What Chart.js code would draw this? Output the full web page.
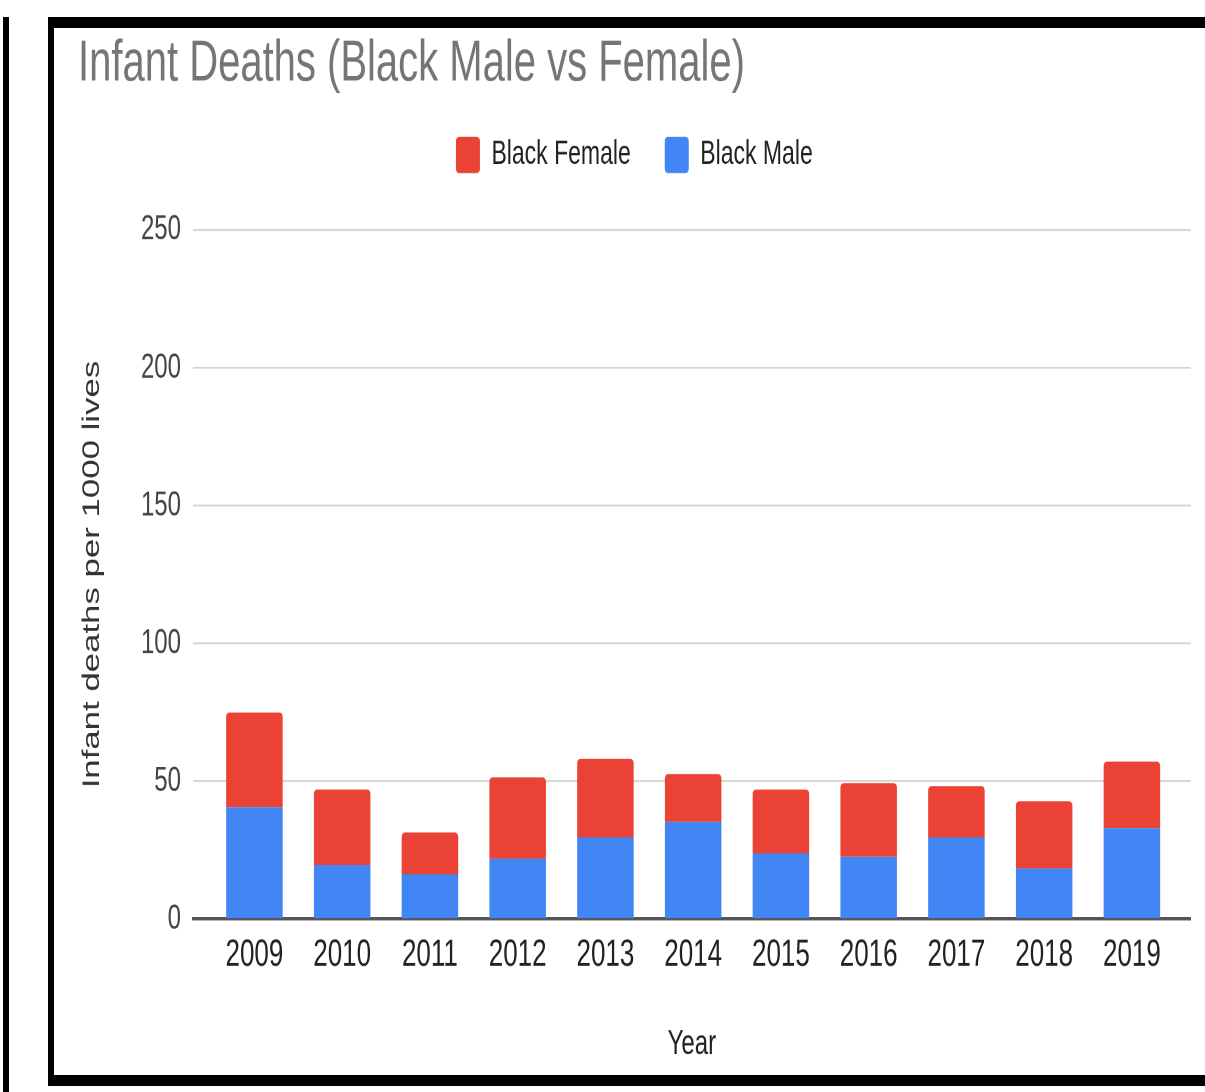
<!DOCTYPE html>
<html>
<head>
<meta charset="utf-8">
<title>Infant Deaths (Black Male vs Female)</title>
<script src="https://cdn.jsdelivr.net/npm/chart.js@4.4.1/dist/chart.umd.min.js"></script>
<style>
  html, body { margin: 0; padding: 0; background: #fff; overflow: hidden; }
  body { width: 1205px; height: 1092px; position: relative; }
  .edge { position: absolute; left: 3px; top: 17px; width: 6px; height: 1075px; background: #000; }
  .frame {
    position: absolute; left: 48px; top: 17px; width: 1200px; height: 1069px;
    box-sizing: border-box; border-top: 11px solid #000; border-left: 6px solid #000;
    border-bottom: 11px solid #000; background: #fff;
  }
  /* the chart is drawn at its natural size and stretched vertically */
  .chart-box {
    position: absolute; left: 56px; top: 0; width: 1149px; height: 753px;
    transform: scaleY(1.45); transform-origin: 0 0; z-index: 2;
  }
</style>
</head>
<body>
<div class="edge"></div>
<div class="frame"></div>
<div class="chart-box"><canvas id="chart" width="1149" height="753"></canvas></div>
<script>
// Infant deaths per 1000 lives, by year
const years = ['2009', '2010', '2011', '2012', '2013', '2014', '2015', '2016', '2017', '2018', '2019'];
const blackMale   = [40.6, 19.6, 16.2, 21.8, 29.6, 35.2, 23.8, 22.6, 29.6, 18.4, 33.0];
const blackFemale = [34.3, 27.4, 15.2, 29.6, 28.5, 17.4, 23.2, 26.7, 18.6, 24.3, 24.1];
const yTicks = [0, 50, 100, 150, 200, 250];

const FONT = "'Liberation Sans', Arial, Helvetica, sans-serif";

const toPoints = (vals) => years.map((y, i) => ({ x: Number(y), y: vals[i] }));

// empty band between the legend and the plot area
const legendGap = {
  id: 'legendGap',
  beforeInit(chart) {
    Chart.layouts.addBox(chart, {
      position: 'top',
      weight: 500,
      fullSize: true,
      options: {},
      isHorizontal() { return true; },
      update(maxWidth) { this.width = maxWidth; this.height = 29.2; },
      draw() {}
    });
  }
};

new Chart(document.getElementById('chart'), {
  type: 'bar',
  data: {
    datasets: [
      {
        label: 'Black Male',
        data: toPoints(blackMale),
        backgroundColor: '#4285F4',
        borderWidth: 0
      },
      {
        label: 'Black Female',
        data: toPoints(blackFemale),
        backgroundColor: '#EA4335',
        borderWidth: 0,
        borderRadius: { topLeft: 3, topRight: 3, bottomLeft: 0, bottomRight: 0 },
        borderSkipped: 'start'
      }
    ]
  },
  plugins: [legendGap],
  options: {
    responsive: false,
    animation: false,
    devicePixelRatio: 2,
    categoryPercentage: 1,
    barPercentage: 0.644,
    layout: { padding: { left: 22, right: 14.3, top: 0, bottom: 18.3 } },
    plugins: {
      tooltip: { enabled: false },
      title: {
        display: true,
        text: 'Infant Deaths (Black Male vs Female)',
        align: 'start',
        color: '#757575',
        font: { family: FONT, size: 40, weight: 'normal', lineHeight: 0.8 },
        padding: { top: 28.4, bottom: 0 }
      },
      legend: {
        display: true,
        position: 'top',
        reverse: true,
        labels: {
          color: '#222',
          font: { family: FONT, size: 23 },
          boxWidth: 24,
          boxHeight: 25,
          padding: 34,
          useBorderRadius: true,
          borderRadius: 3
        }
      }
    },
    scales: {
      x: {
        type: 'linear',
        stacked: true,
        offset: false,
        min: 2008.3,
        max: 2019.67,
        afterBuildTicks(scale) { scale.ticks = years.map(y => ({ value: Number(y) })); },
        afterFit(scale) { scale.height = 100.9; },
        grid: { display: false, drawTicks: false, offset: false },
        border: { display: true, color: '#555', width: 2.2 },
        ticks: {
          color: '#222',
          font: { family: FONT, size: 26 },
          padding: 9.2,
          maxRotation: 0,
          autoSkip: false,
          callback: (v) => String(v)
        },
        title: {
          display: true,
          text: 'Year',
          color: '#222',
          font: { family: FONT, size: 24 },
          padding: { top: 0, bottom: 0 }
        }
      },
      y: {
        stacked: true,
        min: 0,
        max: 250,
        afterBuildTicks(scale) { scale.ticks = yTicks.map(v => ({ value: v })); },
        afterFit(scale) { scale.width = 115; },
        grid: { color: '#d3d3d3', lineWidth: 1.3, drawTicks: false },
        border: { display: false },
        ticks: {
          color: '#444',
          font: { family: FONT, size: 24 },
          padding: 12
        },
        title: {
          display: true,
          text: 'Infant deaths per 1000 lives',
          color: '#333',
          font: { family: FONT, size: 24 },
          padding: { top: 0, bottom: 0 }
        }
      }
    }
  }
});
</script>
</body>
</html>
